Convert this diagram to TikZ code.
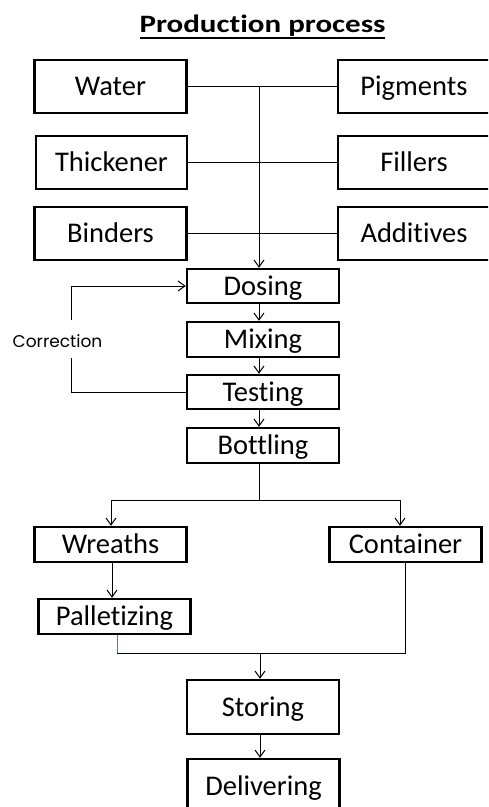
\documentclass[tikz,border=0pt]{standalone}
\usepackage{fontspec}
\usepackage{graphicx}
\setmainfont[Ligatures={NoCommon}]{Carlito}
\newfontfamily\corrfont{Poppins}
\usetikzlibrary{arrows.meta}
\newcommand\myul[1]{\setbox0\hbox{#1}\rlap{\rule[-7pt]{\wd0}{2.5pt}}\box0}
\begin{document}
\begin{tikzpicture}[x=1pt,y=-1pt,
  box/.style={draw, line width=2.4pt, minimum width=152pt, inner sep=0pt,
    text height=18pt, text depth=0pt, font=\fontsize{28.5}{31}\selectfont},
  tallbox/.style={box, minimum height=53pt},
  shortbox/.style={box, minimum height=35pt},
  conn/.style={line width=1pt},
  arr/.style={conn, -{Straight Barb[length=7pt,width=10pt]}}]
\useasboundingbox (0,0) rectangle (488,807);
\clip (0,0) rectangle (488,807);

\node[anchor=base, font=\bfseries\fontsize{25}{28}\selectfont] (title) at (262.5,32)
  {\scalebox{1.24}[1]{\myul{Production process}}};

\node[tallbox] (water) at (110.5,86.5) {Water};
\node[tallbox, minimum width=151pt] (thick) at (111.5,162.5) {Thickener};
\node[tallbox] (binders) at (110.5,233.5) {Binders};
\node[tallbox] (pig) at (414,86.5) {Pigments};
\node[tallbox] (fill) at (414,162.5) {Fillers};
\node[tallbox] (add) at (414,233.5) {Additives};

\node[shortbox, minimum height=34pt] (dosing) at (263,286) {Dosing};
\node[shortbox] (mixing) at (263,339.5) {Mixing};
\node[shortbox, minimum height=34pt] (testing) at (263,392) {Testing};
\node[shortbox] (bottling) at (263,445.5) {Bottling};

\node[shortbox] (wreaths) at (110.5,544.5) {Wreaths};
\node[shortbox] (container) at (405.5,544.5) {Container};
\node[shortbox] (pal) at (114.5,616.5) {Palletizing};

\node[tallbox, minimum height=54pt] (storing) at (263,707) {Storing};
\node[tallbox, minimum height=54pt] (delivering) at (263.5,786) {Delivering};

\node[anchor=base, font=\corrfont\fontsize{17}{20}\selectfont] (corr) at (57.5,347) {Correction};

% inputs
\draw[conn] (water.east) -- (pig.west);
\draw[conn] (thick.east) -- (fill.west);
\draw[conn] (binders.east) -- (add.west);
\coordinate (top) at (259,87);
\draw[arr] (top) -- (top |- dosing.north);

% process chain
\draw[arr] (dosing.south -| top) -- (mixing.north -| top);
\draw[arr] (mixing.south -| top) -- (testing.north -| top);
\draw[arr] (testing.south -| top) -- (bottling.north -| top);

% correction loop
\coordinate (cb) at (71,358);
\coordinate (ct) at (71,320);
\draw[conn] (testing.west) -| (cb);
\draw[arr] (ct) |- (dosing.west);

% split
\coordinate (sp) at (259,500);
\coordinate (spl) at (111,500);
\coordinate (spr) at (400,500);
\draw[conn] (bottling.south -| top) -- (sp);
\draw[conn] (spl) -- (spr);
\draw[arr] (spl) -- (spl |- wreaths.north);
\draw[arr] (spr) -- (spr |- container.north);

\coordinate (wp) at (112,580);
\draw[arr] (wreaths.south -| wp) -- (pal.north -| wp);

% merge
\coordinate (ml) at (117,653);
\coordinate (mm) at (260,653);
\draw[conn, color={rgb,255:red,90;green,120;blue,180}] (pal.south -| ml) -- (ml);
\draw[conn] (ml) -| (container.south);
\draw[arr] (mm) -- (mm |- storing.north);
\draw[arr] (storing.south -| mm) -- (delivering.north -| mm);
\end{tikzpicture}
\end{document}
